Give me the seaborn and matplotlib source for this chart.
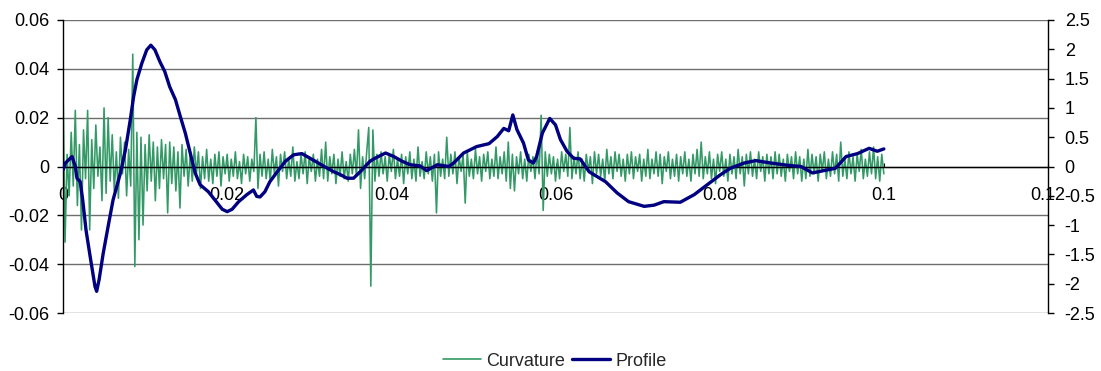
import numpy as np
import pandas as pd
import matplotlib
matplotlib.use("Agg")
import matplotlib.pyplot as plt
import seaborn as sns

# ---------------- data ----------------
# Curvature (left axis), in thousandths, sampled evenly from x=0 to x=0.1
curvature_milli = [
    33, -31, 5, -12, 14, -8, 23, -16, 9, -26, 15, -5, 23, -26, 11, -9, 17, -4, 8, -14,
    24, -11, 20, -6, 13, -10, 6, -13, 12, -3, 10, -12, 7, -8, 46, -41, 14, -30, 12, -24,
    9, -10, 13, -6, 10, -14, 8, -9, 11, -5, 9, -19, 10, -7, 8, -10, 6, -17, 9, -4,
    7, -8, 5, -6, 8, -3, 6, -9, 4, -5, 7, -6, 3, -7, 5, -4, 6, -8, 4, -3,
    5, -6, 3, -4, 6, -5, 2, -7, 5, -3, 4, -6, 3, -2, 20, -9, 5, -4, 6, -5,
    3, -6, 7, -3, 4, -8, 5, -2, 6, -5, 3, -4, 8, -6, 2, -5, 5, -3, 6, -7,
    4, -2, 5, -6, 3, -4, 7, -5, 10, -6, 4, -3, 5, -7, 3, -4, 6, -5, 2, -6,
    5, -3, 7, -4, 15, -9, 4, -5, 6, 16, -49, 15, -6, 5, -4, 6, -3, 4, -6, 5,
    -2, 7, -5, 3, -4, 5, -7, 4, -3, 6, -5, 3, -6, 8, -4, 2, -5, 6, -3, 4,
    -6, 5, -19, 6, -4, 3, -5, 12, -4, 5, -3, 6, -7, 4, -2, 5, -15, 6, -4, 3,
    -5, 7, -3, 4, -6, 5, -2, 6, -5, 3, -4, 8, -5, 4, -3, 6, -6, 10, -9, 5,
    -10, 4, -3, 6, -5, 3, -6, 5, -2, 4, -5, 6, -3, 21, -18, 6, -4, 5, -3, 4,
    -6, 3, -5, 6, -2, 5, -4, 16, -5, 4, -3, 6, -5, 3, -6, 5, -2, 4, -7, 6,
    -3, 5, -4, 3, -6, 7, -3, 4, -5, 6, -2, 5, -4, 3, -6, 5, -3, 6, -5, 4,
    -2, 5, -6, 3, -4, 7, -5, 3, -3, 6, -4, 5, -7, 4, -2, 6, -5, 3, -4, 5,
    -6, 4, -3, 6, -4, 3, -6, 5, -3, 7, -4, 10, -5, 4, -3, 6, -5, 3, -7, 5,
    -2, 6, -4, 3, -6, 5, -3, 4, -5, 7, -3, 4, -8, 5, -3, 6, -4, 3, -5, 6,
    -2, 4, -6, 5, -3, 4, -5, 6, -3, 5, -4, 3, -6, 5, -2, 4, -5, 6, -3, 4,
    -6, 3, -5, 7, -4, 5, -3, 4, -6, 5, -2, 6, -5, 3, -4, 6, -3, 5, -6, 10,
    -4, 3, -5, 6, -3, 4, -6, 5, -2, 7, -5, 3, -4, 6, -3, 8, -5, 4, -6, 5,
    -3,
]
curvature_x_start = 0.0
curvature_x_end = 0.1

# Profile (right axis)
profile_x = [0, 0.0003, 0.0011, 0.0015, 0.0017, 0.0021, 0.0024, 0.0028, 0.0033, 0.0039,
             0.0041, 0.0044, 0.0049, 0.0055, 0.0061, 0.0070, 0.0076, 0.0082, 0.0086, 0.0090,
             0.0096, 0.0102, 0.0107, 0.0112, 0.0118, 0.0124, 0.0130, 0.0137, 0.0143, 0.0149,
             0.0155, 0.0161, 0.0167, 0.0177, 0.0185, 0.0194, 0.0200, 0.0206, 0.0214, 0.0224,
             0.0232, 0.0236, 0.0240, 0.0246, 0.0252, 0.0261, 0.0271, 0.0281, 0.0291, 0.0301,
             0.0311, 0.0322, 0.0330, 0.0338, 0.0346, 0.0354, 0.0362, 0.0370, 0.0374, 0.0380,
             0.0393, 0.0403, 0.0413, 0.0423, 0.0435, 0.0443, 0.0456, 0.0470, 0.0476, 0.0488,
             0.0504, 0.0519, 0.0529, 0.0537, 0.0543, 0.0548, 0.0553, 0.0561, 0.0567, 0.0573,
             0.0577, 0.0584, 0.0593, 0.0600, 0.0606, 0.0614, 0.0622, 0.0630, 0.0641, 0.0661,
             0.0675, 0.0689, 0.0708, 0.0720, 0.0732, 0.0752, 0.0769, 0.0785, 0.0801, 0.0813,
             0.0830, 0.0844, 0.0862, 0.0883, 0.0899, 0.0913, 0.0927, 0.0941, 0.0954, 0.0968,
             0.0982, 0.0992, 0.1000]
profile_y = [-0.06, 0.06, 0.17, 0.0, -0.2, -0.26, -0.57, -1.08, -1.53, -2.05,
             -2.13, -1.93, -1.48, -1.02, -0.57, -0.11, 0.28, 0.80, 1.19, 1.48,
             1.76, 1.99, 2.07, 1.99, 1.79, 1.62, 1.36, 1.14, 0.85, 0.57,
             0.23, -0.11, -0.31, -0.43, -0.57, -0.73, -0.77, -0.73, -0.60, -0.48,
             -0.40, -0.51, -0.52, -0.43, -0.26, -0.09, 0.09, 0.20, 0.22, 0.14,
             0.06, -0.03, -0.09, -0.14, -0.20, -0.20, -0.09, 0.03, 0.09, 0.14,
             0.23, 0.17, 0.09, 0.03, 0.01, -0.07, 0.03, 0.0, 0.06, 0.23,
             0.34, 0.39, 0.51, 0.65, 0.61, 0.88, 0.63, 0.40, 0.11, 0.06,
             0.17, 0.57, 0.82, 0.71, 0.46, 0.26, 0.14, 0.13, -0.09, -0.26,
             -0.45, -0.60, -0.68, -0.66, -0.60, -0.61, -0.48, -0.31, -0.14, -0.03,
             0.06, 0.10, 0.06, 0.02, 0.0, -0.11, -0.07, -0.03, 0.17, 0.22,
             0.31, 0.26, 0.30]

x_ticks = [0, 0.02, 0.04, 0.06, 0.08, 0.1, 0.12]
x_tick_labels = ["0", "0.02", "0.04", "0.06", "0.08", "0.1", "0.12"]
left_ticks = [-0.06, -0.04, -0.02, 0, 0.02, 0.04, 0.06]
left_tick_labels = ["-0.06", "-0.04", "-0.02", "0", "0.02", "0.04", "0.06"]
right_ticks = [-2.5, -2, -1.5, -1, -0.5, 0, 0.5, 1, 1.5, 2, 2.5]
right_tick_labels = ["-2.5", "-2", "-1.5", "-1", "-0.5", "0", "0.5", "1", "1.5", "2", "2.5"]
series_names = ["Curvature", "Profile"]

# ---------------- plot ----------------
sns.set_style("white")
plt.rcParams["font.family"] = ["Liberation Sans", "DejaVu Sans"]
plt.rcParams["font.size"] = 13

curv = np.array(curvature_milli) / 1000.0
curv_df = pd.DataFrame({
    "x": np.linspace(curvature_x_start, curvature_x_end, len(curv)),
    "y": curv,
})
prof_df = pd.DataFrame({"x": profile_x, "y": profile_y})

GREEN = "#339966"
NAVY = "#000080"

fig = plt.figure(figsize=(11.01, 3.71), dpi=100)
ax = fig.add_axes([63 / 1101, 1 - 313 / 371, (1048 - 63) / 1101, (313 - 20) / 371])
ax2 = ax.twinx()

sns.lineplot(data=curv_df, x="x", y="y", ax=ax, color=GREEN, linewidth=1.15,
             estimator=None, sort=False, label=series_names[0], legend=False)
sns.lineplot(data=prof_df, x="x", y="y", ax=ax2, color=NAVY, linewidth=2.4,
             estimator=None, sort=False, label=series_names[1], legend=False)

ax.set_xlim(0, 0.12)
ax.set_ylim(-0.06, 0.06)
ax2.set_ylim(-2.5, 2.5)

ax.set_xticks(x_ticks)
ax.set_xticklabels(x_tick_labels)
ax.set_yticks(left_ticks)
ax.set_yticklabels(left_tick_labels)
ax2.set_yticks(right_ticks)
ax2.set_yticklabels(right_tick_labels)

ax.set_xlabel("")
ax.set_ylabel("")
ax2.set_ylabel("")

# grid
ax.yaxis.grid(True, color="#6e6e6e", linewidth=1.0)
ax.xaxis.grid(False)
ax.set_axisbelow(True)

# spines
ax.spines["top"].set_visible(False)
ax2.spines["top"].set_visible(False)
ax.spines["bottom"].set_position(("data", 0))
ax2.spines["bottom"].set_visible(False)
for a in (ax, ax2):
    a.spines["left"].set_color("black")
    a.spines["right"].set_color("black")
    a.spines["left"].set_linewidth(1.0)
    a.spines["right"].set_linewidth(1.0)
ax.spines["bottom"].set_color("black")
ax.spines["bottom"].set_linewidth(1.0)
ax.spines["right"].set_visible(False)
ax2.spines["left"].set_visible(False)

ax.tick_params(axis="y", which="both", left=True, length=4, width=1, pad=6,
               labelsize=13, colors="black", direction="out")
ax.tick_params(axis="x", which="both", bottom=True, length=3, width=0.8, pad=15,
               labelsize=13, colors="black", direction="in")
ax2.tick_params(axis="y", which="both", right=True, length=4, width=1, pad=8,
                labelsize=13, colors="black", direction="out")

handles = [plt.Line2D([], [], color=GREEN, linewidth=1.2),
           plt.Line2D([], [], color=NAVY, linewidth=2.4)]
fig.legend(handles, series_names, loc="center", bbox_to_anchor=(555 / 1101, 1 - 361 / 371),
           ncol=2, frameon=False, fontsize=13, handlelength=2.1, handletextpad=0.3,
           columnspacing=0.4, borderaxespad=0)

fig.savefig("out.png", dpi=100)
